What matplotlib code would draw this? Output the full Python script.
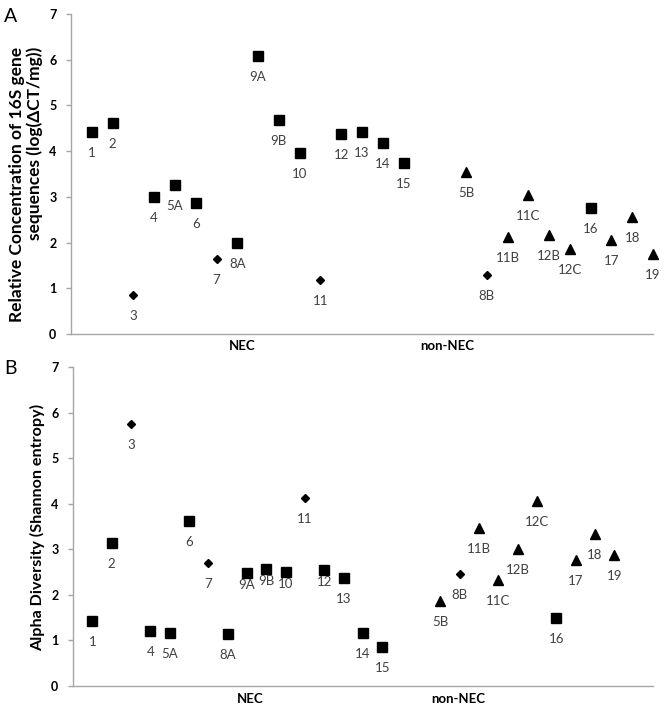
import matplotlib
matplotlib.use("Agg")
import matplotlib.pyplot as plt

plt.rcParams['font.family'] = ['Lato', 'DejaVu Sans']

# ---- data ----
sample_labels = ['1', '2', '3', '4', '5A', '6', '7', '8A', '9A', '9B', '10', '11', '12', '13',
                 '14', '15', '5B', '8B', '11B', '11C', '12B', '12C', '16', '17', '18', '19']
sample_pos = [1, 2, 3, 4, 5, 6, 7, 8, 9, 10, 11, 12, 13, 14, 15, 16,
              19, 20, 21, 22, 23, 24, 25, 26, 27, 28]
sample_group = ['s', 's', 'd', 's', 's', 's', 'd', 's', 's', 's', 's', 'd', 's', 's',
                's', 's', 't', 'd', 't', 't', 't', 't', 's', 't', 't', 't']
conc_16s = [4.41, 4.61, 0.86, 2.99, 3.25, 2.87, 1.65, 1.99, 6.08, 4.69, 3.95, 1.18, 4.37, 4.41,
            4.17, 3.74, 3.55, 1.30, 2.13, 3.05, 2.17, 1.87, 2.76, 2.06, 2.55, 1.74]
shannon = [1.43, 3.13, 5.76, 1.21, 1.16, 3.62, 2.69, 1.15, 2.47, 2.56, 2.51, 4.13, 2.54, 2.36,
           1.17, 0.85, 1.87, 2.45, 3.46, 2.33, 3.00, 4.06, 1.50, 2.77, 3.33, 2.87]
group_names = ['NEC', 'non-NEC']
y_ticks = [0, 1, 2, 3, 4, 5, 6, 7]

# ---- styling ----
W, H = 664, 707
marker_style = {'s': dict(marker='s', ms=7.2), 'd': dict(marker='D', ms=4.1),
                't': dict(marker='^', ms=6.6)}
axis_gray = '#a6a6a6'
label_gray = '#404040'

fig = plt.figure(figsize=(W / 100, H / 100), dpi=100)


def px_axes(l, r, b, t):
    return fig.add_axes([l / W, (H - b) / H, (r - l) / W, (b - t) / H])


def style_axes(ax, xmax):
    ax.set_xlim(0, xmax)
    ax.set_ylim(0, 7)
    ax.set_yticks(y_ticks)
    ax.set_xticks([])
    for s in ['top', 'right']:
        ax.spines[s].set_visible(False)
    for s in ['left', 'bottom']:
        ax.spines[s].set_color(axis_gray)
        ax.spines[s].set_linewidth(1.0)
    ax.tick_params(axis='y', length=3.5, width=1.0, color=axis_gray, pad=7,
                   labelsize=9)
    for t in ax.get_yticklabels():
        t.set_fontweight('bold')


def draw_points(ax, values, raised=()):
    for lab, x, g, v in zip(sample_labels, sample_pos, sample_group, values):
        ax.plot([x], [v], linestyle='none', color='black', clip_on=False, **marker_style[g])
        dy = -12 if lab in raised else -21
        ax.annotate(lab, (x, v), xytext=(0, dy), textcoords='offset pixels',
                    ha='center', va='center', fontsize=9.5, color=label_gray)


# Panel A
axA = px_axes(71, 653, 334, 14)
style_axes(axA, 28)
draw_points(axA, conc_16s)
fig.text(242 / W, 1 - 346 / H, group_names[0], ha='center', va='center',
         fontsize=9.5, fontweight='bold')
fig.text(447 / W, 1 - 346 / H, group_names[1], ha='center', va='center',
         fontsize=9.5, fontweight='bold')
fig.text(11 / W, 1 - 16 / H, 'A', ha='center', va='center', fontsize=14)
fig.text(26 / W, 1 - 184 / H, 'Relative Concentration of 16S gene\nsequences (log(ΔCT/mg))',
         rotation=90, ha='center', va='center', multialignment='right',
         fontsize=12.5, fontweight='bold', linespacing=1.1)

# Panel B
axB = px_axes(73, 653, 686, 367)
style_axes(axB, 30)
draw_points(axB, shannon, raised=('9A', '9B', '10', '12'))
fig.text(250 / W, 1 - 699 / H, group_names[0], ha='center', va='center',
         fontsize=9.5, fontweight='bold')
fig.text(458 / W, 1 - 699 / H, group_names[1], ha='center', va='center',
         fontsize=9.5, fontweight='bold')
fig.text(11 / W, 1 - 368 / H, 'B', ha='center', va='center', fontsize=14)
fig.text(38 / W, 1 - 527 / H, 'Alpha Diversity (Shannon entropy)',
         rotation=90, ha='center', va='center', fontsize=11.6, fontweight='bold')

fig.savefig('out.png', dpi=100)
